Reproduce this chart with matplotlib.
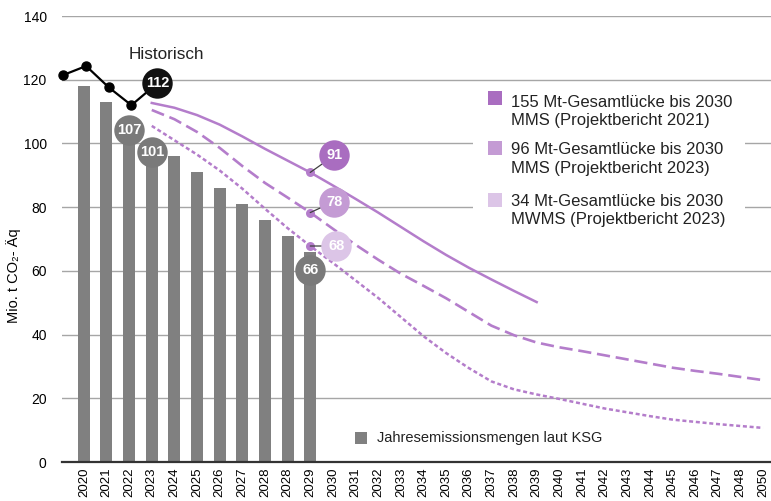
import numpy as np
import matplotlib
matplotlib.use("Agg")
import matplotlib.pyplot as plt
from matplotlib.transforms import offset_copy

plt.rcParams["font.family"] = ["Liberation Sans", "DejaVu Sans"]

# x categories as printed on the original axis (incl. its quirks)
tick_labels = ["2020", "2021", "2022", "2023", "2024", "2025", "2026", "2027",
               "2028", "2028", "2029", "2030", "2031", "2032", "2033", "2034",
               "2035", "2036", "2037", "2038", "2039", "2040", "2041", "2042",
               "2043", "2044", "2045", "2046", "2047", "2048", "2050"]

# KSG annual emission budgets (bars, first 11 categories)
ksg_values = [118, 113, 107, 101, 96, 91, 86, 81, 76, 71, 66]

# historic emissions
hist_years = [2019, 2020, 2021, 2022]
hist_values = [121.5, 124.3, 117.6, 112]

# projections, starting at category 3
mms_2021 = [112.7, 111.2, 108.9, 105.9, 102.2, 98.3, 94.6, 90.9, 86.8, 82.6,
            78.3, 73.8, 69.3, 65.0, 61.0, 57.3, 53.7, 50.2]
mms_2023 = [110.5, 107.6, 103.6, 98.6, 92.9, 87.6, 83.0, 78.3, 73.2, 68.2,
            63.5, 59.1, 55.3, 51.4, 47.1, 42.8, 39.8, 37.5, 36.0, 34.8,
            33.5, 32.2, 30.9, 29.6, 28.6, 27.7, 26.7, 25.7]
mwms_2023 = [105.5, 101.0, 96.5, 91.5, 85.8, 79.5, 73.4, 67.8, 62.5, 57.0,
             51.5, 45.5, 39.5, 34.2, 29.5, 25.3, 22.8, 21.2, 19.8, 18.3,
             16.8, 15.6, 14.4, 13.3, 12.6, 11.9, 11.3, 10.7]

legend_labels = ["155 Mt-Gesamtlücke bis 2030\nMMS (Projektbericht 2021)",
                 "96 Mt-Gesamtlücke bis 2030\nMMS (Projektbericht 2023)",
                 "34 Mt-Gesamtlücke bis 2030\nMWMS (Projektbericht 2023)"]
gap_labels = ["91", "78", "68"]

purple = "#b47dcb"
badge_cols = ["#a96dc0", "#c49bd4", "#dcc5e7"]
bar_col = "#808080"

fig = plt.figure(figsize=(7.71, 5.01), dpi=100)
ax = fig.add_axes([62 / 771, 1 - 462 / 501, 709 / 771, 446 / 501])

x = np.arange(len(tick_labels))
ax.bar(x[:len(ksg_values)], ksg_values, width=0.53, color=bar_col, zorder=2)

# projections
px_a = 3 + np.arange(len(mms_2021))
px_b = 3 + np.arange(len(mms_2023))
ax.plot(px_a, mms_2021, color=purple, lw=1.8, zorder=3)
ax.plot(px_b, mms_2023, color=purple, lw=1.9, dashes=(5.0, 2.2), zorder=3)
ax.plot(px_b, mwms_2023, color=purple, lw=1.8, dashes=(1.6, 1.1), zorder=3)

# historic
hx = np.array(hist_years) - 2020 + 0.1
ax.plot(hx, hist_values, color="black", lw=1.6, marker="o", ms=6.5,
        zorder=4, clip_on=False)
ax.text(3.64, 128, "Historisch", ha="center", va="center", fontsize=12.3,
        color="#222222")


def badge(xv, yv, text, color, dx, dy, link=None, lw=0.9):
    tr = offset_copy(ax.transData, fig=fig, x=dx, y=dy, units="dots")
    if link:
        ax.annotate("", xy=(xv, yv), xytext=(xv, yv), textcoords=tr,
                    arrowprops=dict(arrowstyle="-", color=link, lw=lw,
                                    shrinkA=0, shrinkB=0), zorder=4)
    ax.scatter([xv], [yv], s=480, color=color, transform=tr, zorder=5,
               linewidths=0)
    ax.text(xv, yv, text, transform=tr, ha="center", va="center",
            color="white", fontsize=10.5, fontweight="bold", zorder=6)


# historic 2022 value
badge(hx[-1], hist_values[-1], "112", "#111111", 26, 22, link="black", lw=1.6)

# KSG badges
for i, dy in [(2, -9), (3, -12), (10, -18)]:
    badge(x[i], ksg_values[i], str(ksg_values[i]), "#7a7a7a", 0, dy)

# 2030 gap markers
gap_pts = [mms_2021[7], mms_2023[7], mwms_2023[7]]
offs = [(24, 17), (24, 11), (26, 0)]
for v, lab, col, (dx, dy) in zip(gap_pts, gap_labels, badge_cols, offs):
    ax.scatter([10], [v], s=42, color=purple, zorder=4, linewidths=0)
    badge(10, v, lab, col, dx, dy, link="#404040")

# legend (manual, white box covers the grid)
fx = lambda p: (p - 62) / 709
fy = lambda p: (462 - p) / 446
ax.add_patch(plt.Rectangle((fx(473), fy(236)), fx(745) - fx(473),
                           fy(86) - fy(236), transform=ax.transAxes,
                           facecolor="white", edgecolor="none", zorder=1.5))
for lab, col, sq, ty in zip(legend_labels, badge_cols, [98, 148, 200],
                            [111.5, 159, 210]):
    ax.scatter([fx(495)], [fy(sq)], s=90, marker="s", color=col,
               transform=ax.transAxes, zorder=5, linewidths=0)
    ax.text(fx(511), fy(ty), lab, transform=ax.transAxes, ha="left",
            va="center", fontsize=12, linespacing=1.25, color="#222222")

ax.scatter([fx(361)], [fy(438)], s=80, marker="s", color=bar_col,
           transform=ax.transAxes, zorder=5, linewidths=0)
ax.text(fx(377), fy(438), "Jahresemissionsmengen laut KSG",
        transform=ax.transAxes, ha="left", va="center", fontsize=10.5,
        color="#222222")

# axes styling
ax.set_xlim(-0.965, 30.35)
ax.set_ylim(0, 140)
ax.set_yticks(np.arange(0, 141, 20))
ax.set_xticks(x)
ax.set_xticklabels(tick_labels, rotation=90, fontsize=9.5)
ax.tick_params(axis="x", length=0, pad=4)
ax.tick_params(axis="y", length=0, pad=11, labelsize=10)
for s in ax.spines.values():
    s.set_visible(False)
ax.yaxis.grid(True, color="#a6a6a6", lw=1.0, zorder=0)
ax.set_axisbelow(True)
ax.axhline(0, color="#333333", lw=1.6, zorder=3, clip_on=False)

ax.set_ylabel("Mio. t CO₂- Äq", fontsize=10.5)
ax.yaxis.set_label_coords(-0.058, 0.417)

fig.savefig("out.png", dpi=100)
